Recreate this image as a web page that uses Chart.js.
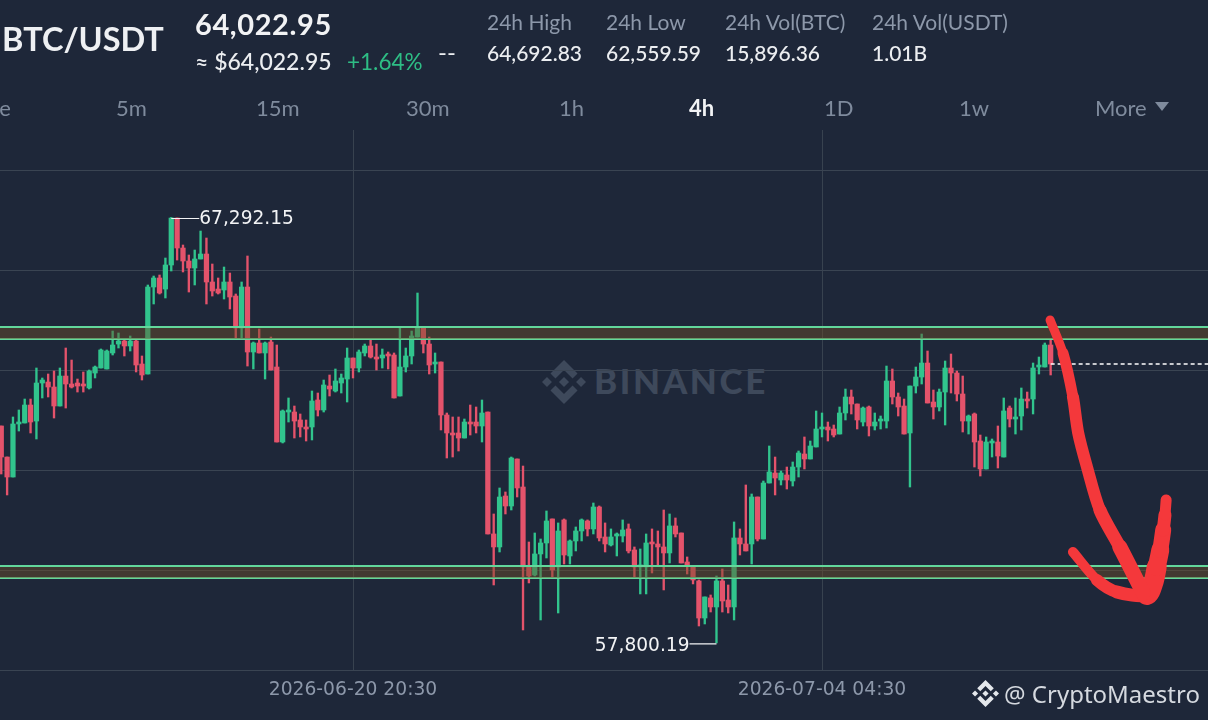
<!DOCTYPE html>
<html>
<head>
<meta charset="utf-8">
<title>BTC/USDT 4h</title>
<script src="https://cdn.jsdelivr.net/npm/chart.js@4"></script>
<style>
    html, body { margin: 0; padding: 0; background: #1e2739; overflow: hidden; }
    #page { position: relative; width: 1208px; height: 720px; overflow: hidden; font-family: Lato, sans-serif; }
    #page span, #page div.t { position: absolute; white-space: nowrap; transform: translateY(-50%); }
    canvas { position: absolute; left: 0; top: 0; }
    .stat-label { font-size: 21px; color: #8d98aa; }
    .stat-value { font-size: 21px; color: #eceef1; font-weight: 500; }
    .tab { font-size: 22px; color: #7f8b9d; }
    #watermark { position: absolute; left: 542px; top: 360px; width: 44px; height: 44px; fill: #3e495b; }
    #credit-logo { position: absolute; left: 972px; top: 680px; width: 27px; height: 27px; fill: #e4e7eb; }
    #more-arrow { position: absolute; left: 1155px; top: 102px; width: 0; height: 0;
        border-left: 7px solid transparent; border-right: 7px solid transparent; border-top: 9px solid #7f8b9d; }
</style>
</head>
<body>
<div id="page">
    <svg id="watermark" viewBox="0 0 126.6 126.6"><path d="M38.73 53.2l24.59-24.58 24.6 24.6 14.3-14.31L63.32 0 24.42 38.9zM0 63.31l14.3-14.31 14.31 14.31-14.31 14.3zM38.73 73.41l24.59 24.59 24.6-24.6 14.31 14.29-38.9 38.91-38.91-38.88-.01-.01zM98.01 63.32l14.3-14.31 14.31 14.3-14.31 14.31zM77.83 63.3L63.32 48.78 48.81 63.28l14.51 14.52z"/></svg>
    <span style="left:594px;top:380px;font-size:35px;font-weight:900;color:#3e495b;letter-spacing:2.6px">BINANCE</span>
    <canvas id="chart" width="1208" height="720"></canvas>
    <div id="header"></div>
    <div id="more-arrow"></div>
    <svg id="credit-logo" viewBox="0 0 126.6 126.6"><path d="M38.73 53.2l24.59-24.58 24.6 24.6 14.3-14.31L63.32 0 24.42 38.9zM0 63.31l14.3-14.31 14.31 14.31-14.31 14.3zM38.73 73.41l24.59 24.59 24.6-24.6 14.31 14.29-38.9 38.91-38.91-38.88-.01-.01zM98.01 63.32l14.3-14.31 14.31 14.3-14.31 14.31zM77.83 63.3L63.32 48.78 48.81 63.28l14.51 14.52z"/></svg>
    <span style="left:1004px;top:693px;font-family:'Noto Sans';font-size:24px;color:#d5d9df">@ CryptoMaestro</span>
</div>
<script>
const opens = [
    62640,61948,61502,62685,62707,63108,62751,63599,63621,63510,
    63086,63755,63577,63599,63577,63488,63822,63934,63912,64269,
    64469,64536,64425,64536,64023,63800,65741,65942,65696,66232,
    67280,66611,66321,66165,66366,66477,65853,65696,65674,65853,
    65540,64826,65741,64291,64492,64269,64514,63956,62283,62952,
    62952,62774,62618,62618,63220,62997,63532,63421,63599,63688,
    64157,63934,64269,64425,64179,64157,64246,64224,63309,63956,
    64202,64625,64826,64469,64023,64068,62885,62484,62484,62372,
    62707,62729,62640,62952,60231,59941,61078,60855,61904,61279,
    59495,59316,59785,60030,60566,59495,60544,59740,60075,60298,
    60521,60343,60833,60164,59985,60186,60186,60343,59874,59495,
    59495,60030,60008,59941,59807,60410,60253,59606,59495,59183,
    58356,58804,58602,59183,58758,58602,60142,60008,60008,61056,
    60119,61368,61591,61435,61547,61413,61725,62015,61904,62172,
    62573,62618,62573,62461,62930,63287,63131,62729,63064,62640,
    62751,62751,63644,63287,63086,62484,63532,63733,64045,63175,
    63064,63398,63934,63822,63354,62751,62908,62305,61681,62261,
    62283,61948,63041,62796,62863,63242,63242,63956,63956,64447
];
const highs = [
    62640,61948,62841,62997,63242,63242,63934,63711,63800,63867,
    63934,64380,64112,63688,63845,63889,63978,64358,64336,64759,
    64715,64559,64648,64559,64202,65786,65986,66009,66388,67292.15,
    67280,66678,66455,66566,66990,66834,66254,65942,66187,66053,
    65585,65853,66433,64514,64804,64514,64625,64447,62997,63265,
    63086,62908,62774,63421,63376,63666,63778,63912,63800,64380,
    64157,64336,64469,64581,64469,64358,64291,64269,64826,64380,
    64759,65607,64826,64625,64269,64068,62930,62841,62841,62796,
    63108,63064,63220,62952,60677,61257,61168,61948,61904,61747,
    60052,60253,60119,60744,60566,60477,60566,60097,60387,60566,
    60544,60922,60855,60477,60343,60253,60544,60454,59941,59896,
    60231,60343,60298,60766,60677,60588,60253,59718,59517,59205,
    58826,58870,59294,59450,59093,60499,60343,61324,61123,61056,
    61413,62194,61948,61636,61725,61837,62082,62395,62305,62975,
    62930,62729,62662,63064,63465,63443,63131,63064,63086,62930,
    62863,63978,63912,63376,63242,63532,63956,64692,64313,63443,
    63465,64090,64246,63867,63755,62885,62930,62439,62395,62350,
    62640,63265,63086,63265,63488,63398,64045,64179,64492,64559
];
const lows = [
    61569,61101,61502,62528,62707,62484,62350,63265,63287,62818,
    63086,63041,63488,63398,63398,63465,63711,63934,63912,64224,
    64380,64202,64313,63845,63666,63800,65362,65585,65496,66098,
    66343,66076,65629,65786,66366,65362,65540,65585,65473,65250,
    64603,64603,63978,63912,64269,63688,63889,62283,62261,62729,
    62372,62395,62305,62328,62863,62952,63309,63398,63376,63175,
    63711,63845,64202,64157,63889,63934,63912,63265,63309,63845,
    64023,64625,64269,63800,63822,62551,61926,61948,62082,62372,
    62439,62484,62283,60231,59093,59829,60677,60766,61056,58089,
    59138,59294,58312,59695,59272,58468,59561,59561,59852,60075,
    60186,60231,60075,59829,59963,59740,60052,59807,59272,58893,
    58893,59361,59539,58982,59584,60164,59584,59338,59116,58178,
    58223,58490,57800.19,58490,58468,58312,59762,59852,59561,60075,
    60119,61368,61101,61324,61234,61301,61502,61681,61904,62172,
    62395,62305,62395,62461,62774,62908,62573,62640,62417,62551,
    62573,62595,63131,62863,62461,61279,63376,63577,63153,62796,
    62975,62662,63376,63198,62506,62461,61725,61524,61681,61948,
    61703,61948,62618,62461,62551,63041,62908,63800,63956,63778
];
const closes = [
    61948,61502,62685,62729,63108,62729,63599,63666,63510,63086,
    63755,63577,63510,63532,63532,63867,63956,64336,64313,64447,
    64536,64425,64536,64001,63778,65741,65942,65607,66232,67280,
    66611,66321,66165,66366,66477,65853,65652,65607,65853,65518,
    64826,65741,64291,64492,64269,64492,63889,62283,62975,62975,
    62751,62618,62573,63198,62997,63555,63465,63644,63711,64157,
    63934,64291,64425,64179,64135,64224,64202,63265,63956,64202,
    64648,64826,64469,64001,64045,62885,62484,62439,62372,62729,
    62685,62640,62930,60231,59941,61056,60855,61926,61257,59495,
    59294,59785,60030,60521,59428,60298,59762,60075,60298,60544,
    60343,60833,60142,60008,60164,60231,60320,59852,59495,59539,
    60030,60008,59941,59807,60410,60231,59584,59539,59205,58356,
    58826,58602,59183,58736,58602,60142,60008,59852,61056,60119,
    61368,61614,61480,61591,61435,61725,62038,61904,62194,62573,
    62618,62551,62439,62930,63287,63131,62774,63041,62640,62729,
    62774,63644,63287,63064,62461,63532,63733,64045,63153,63064,
    63398,63934,63822,63354,62751,62863,62283,61681,62283,62305,
    61971,62975,62796,62841,63242,63198,63934,63978,64447,64022.95
];

const timeTickIndex = [60, 140];
const timeTickLabels = ['2026-06-20 20:30', '2026-07-04 04:30'];
const gridPrices = [68351, 66120, 63889, 61658, 59427, 57196];
const upperBand = [64849, 64581];
const lowerBand = [59517, 59249];
const lastPrice = 64022.95;

// hand drawn red arrow, two strokes
const arrowShaftIndex = [178.9, 181.1, 182.8, 183.7, 185.2, 187.4, 190.8, 194.8];
const arrowShaftPrice = [65005, 64269, 63287, 62484, 61725, 60766, 59941, 58914];
const arrowHeadIndex = [182.8, 186.9, 190.3, 195.4, 196.5, 197.1, 197.7, 198.2, 198.5, 198.7];
const arrowHeadPrice = [59829, 59204, 58937, 58870, 59138, 59495, 59874, 60320, 60655, 60989];
const arrowShaftWidth = [9, 11, 12, 12, 12, 13, 15];
const arrowHeadWidth = [10, 12, 13, 20, 20, 18, 16, 13, 11];

const statLabels = ['24h High', '24h Low', '24h Vol(BTC)', '24h Vol(USDT)'];
const statValues = ['64,692.83', '62,559.59', '15,896.36', '1.01B'];
const statLeft = [487, 606, 725, 872];
const tabLabels = ['Time', '5m', '15m', '30m', '1h', '4h', '1D', '1w', 'More'];
const tabLeft = [-37, 116, 256, 406, 559, 689, 824, 959, 1095];

const GREEN = '#31c48d';
const RED = '#e4536b';
const xMin = -0.213;
const xMax = 205.84;
const yMin = 57196;
const yMax = 69244;

function addText(text, left, top, style, cls) {
    const el = document.createElement('span');
    el.textContent = text;
    el.style.cssText = 'left:' + left + 'px;top:' + top + 'px;' + (style || '');
    if (cls) el.className = cls;
    document.getElementById('header').appendChild(el);
}

addText('BTC/USDT', 2, 38, 'font-size:32.5px;font-weight:700;color:#eef0f3');
addText('64,022.95', 195, 23, 'font-size:29px;font-weight:700;color:#f2f3f5;letter-spacing:0.6px');
addText('≈ $64,022.95', 195, 61, 'font-size:23px;font-weight:500;color:#eceef1');
addText('+1.64%', 347, 61, 'font-size:22.5px;color:#2ebd85');
addText('--', 438, 51, 'font-size:24px;color:#eceef1');
statLabels.forEach(function (s, i) { addText(s, statLeft[i], 21, '', 'stat-label'); });
statValues.forEach(function (s, i) { addText(s, statLeft[i], 52, '', 'stat-value'); });
tabLabels.forEach(function (s, i) {
    addText(s, tabLeft[i], 107, s === '4h' ? 'color:#f2f3f5;font-weight:700' : '', 'tab');
});

const candleColors = closes.map(function (c, i) { return c >= opens[i] ? GREEN : RED; });

function hLine(price) {
    return [{ x: xMin, y: price }, { x: xMax, y: price }];
}

function bandDatasets(band) {
    return [
        {
            type: 'line', data: hLine(band[0]), borderColor: '#62d79b', borderWidth: 2, pointRadius: 0,
            fill: '+1', backgroundColor: 'rgba(110, 80, 40, 0.45)', order: 1
        },
        {
            type: 'line', data: hLine(band[1]), borderColor: '#62d79b', borderWidth: 2, pointRadius: 0,
            fill: false, order: 1
        }
    ];
}

function arrowDataset(xs, ys, widths) {
    return {
        type: 'line',
        data: xs.map(function (x, i) { return { x: x, y: ys[i] }; }),
        borderColor: '#f4383b',
        borderWidth: widths[0],
        borderCapStyle: 'round',
        borderJoinStyle: 'round',
        tension: 0.3,
        pointRadius: 0,
        fill: false,
        order: 0,
        segment: { borderWidth: function (ctx) { return widths[ctx.p0DataIndex]; } }
    };
}

// leader lines with the extreme price labels
const extremeLabels = {
    id: 'extremeLabels',
    afterDatasetsDraw: function (chart) {
        const x = chart.scales.x, y = chart.scales.y, ctx = chart.ctx;
        const maxHigh = Math.max.apply(null, highs), minLow = Math.min.apply(null, lows);
        const fmt = function (v) { return v.toLocaleString('en-US', { minimumFractionDigits: 2 }); };
        const hx = x.getPixelForValue(highs.indexOf(maxHigh)), hy = y.getPixelForValue(maxHigh);
        const lx = x.getPixelForValue(lows.indexOf(minLow)), ly = y.getPixelForValue(minLow);
        ctx.save();
        ctx.strokeStyle = '#f2f3f5';
        ctx.lineWidth = 1.2;
        ctx.beginPath();
        ctx.moveTo(hx, hy + 1); ctx.lineTo(hx + 28, hy + 1);
        ctx.moveTo(lx, ly + 1); ctx.lineTo(lx - 27, ly + 1);
        ctx.stroke();
        ctx.fillStyle = '#f2f3f5';
        ctx.font = '18.6px "DejaVu Sans"';
        ctx.textBaseline = 'middle';
        ctx.textAlign = 'left';
        ctx.fillText(fmt(maxHigh), hx + 28, hy + 2);
        ctx.textAlign = 'right';
        ctx.fillText(fmt(minLow), lx - 27, ly + 3);
        ctx.restore();
    }
};

new Chart(document.getElementById('chart').getContext('2d'), {
    type: 'bar',
    data: {
        datasets: [
            arrowDataset(arrowShaftIndex, arrowShaftPrice, arrowShaftWidth),
            arrowDataset(arrowHeadIndex, arrowHeadPrice, arrowHeadWidth),
            {
                type: 'line',
                data: [{ x: closes.length - 1, y: lastPrice }, { x: xMax, y: lastPrice }],
                borderColor: '#ffffff', borderWidth: 1.3, borderDash: [4, 3], pointRadius: 0, fill: false, order: 1
            },
            ...bandDatasets(upperBand),
            ...bandDatasets(lowerBand),
            {
                label: 'body',
                data: opens.map(function (o, i) { return { x: i, y: [o, closes[i]] }; }),
                backgroundColor: candleColors,
                barThickness: 4.6,
                minBarLength: 2,
                grouped: false,
                order: 2
            },
            {
                label: 'wick',
                data: lows.map(function (l, i) { return { x: i, y: [l, highs[i]] }; }),
                backgroundColor: candleColors,
                barThickness: 1.7,
                grouped: false,
                order: 3
            }
        ]
    },
    options: {
        responsive: false,
        animation: false,
        events: [],
        layout: { padding: { top: 130, left: 0, right: 0, bottom: 0 } },
        plugins: { legend: { display: false }, tooltip: { enabled: false } },
        scales: {
            x: {
                type: 'linear',
                min: xMin,
                max: xMax,
                offset: false,
                border: { display: false },
                grid: { offset: false, color: '#38424f', drawTicks: false },
                afterBuildTicks: function (axis) {
                    axis.ticks = timeTickIndex.map(function (v) { return { value: v }; });
                },
                afterFit: function (axis) { axis.height = 50; },
                ticks: {
                    autoSkip: false,
                    maxRotation: 0,
                    minRotation: 0,
                    padding: 9,
                    color: '#8d98aa',
                    font: { family: 'DejaVu Sans', size: 18.7 },
                    callback: function (v, i) { return timeTickLabels[i]; }
                }
            },
            y: {
                min: yMin,
                max: yMax,
                border: { display: false },
                grid: { color: '#3a4452', drawTicks: false },
                afterBuildTicks: function (axis) {
                    axis.ticks = gridPrices.map(function (v) { return { value: v }; });
                },
                afterFit: function (axis) { axis.width = 0; },
                ticks: { display: false }
            }
        }
    },
    plugins: [extremeLabels]
});
</script>
</body>
</html>
